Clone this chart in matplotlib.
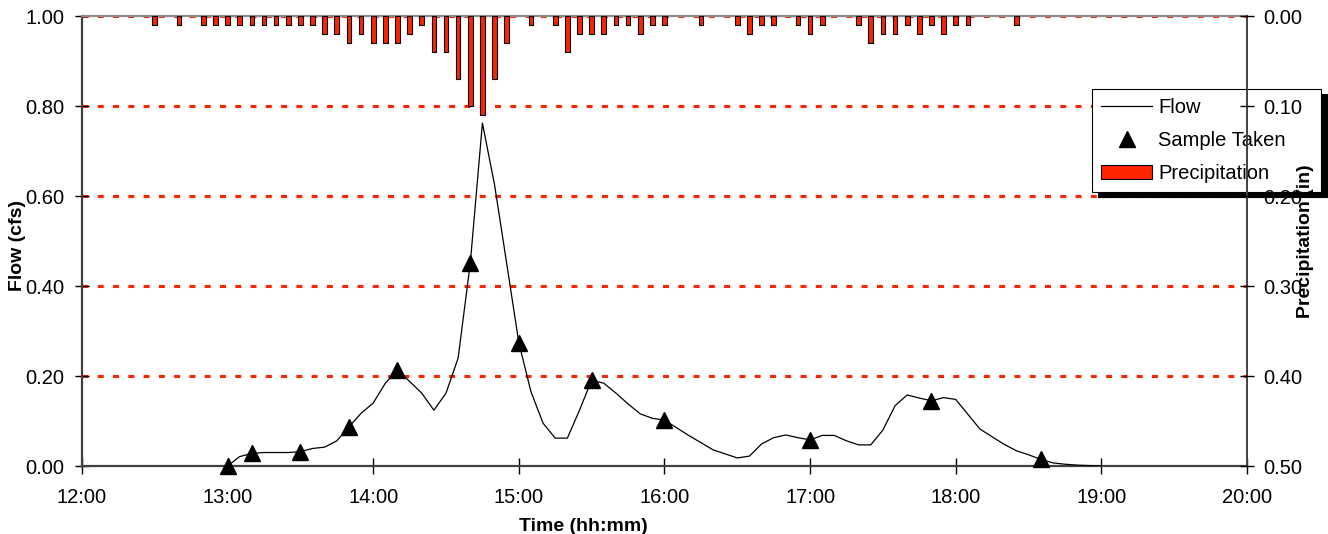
import matplotlib
matplotlib.use("Agg")
import matplotlib.pyplot as plt
from matplotlib.lines import Line2D
from matplotlib.patches import Patch

plt.rcParams["font.family"] = ["Liberation Sans", "DejaVu Sans"]

RED = "#FF2400"

# flow record, 5-minute interval (cfs)
flow_times = [
    "13:00", "13:05", "13:10", "13:15", "13:20", "13:25", "13:30", "13:35", "13:40", "13:45", "13:50", "13:55",
    "14:00", "14:05", "14:10", "14:15", "14:20", "14:25", "14:30", "14:35", "14:40", "14:45", "14:50", "14:55",
    "15:00", "15:05", "15:10", "15:15", "15:20", "15:25", "15:30", "15:35", "15:40", "15:45", "15:50", "15:55",
    "16:00", "16:05", "16:10", "16:15", "16:20", "16:25", "16:30", "16:35", "16:40", "16:45", "16:50", "16:55",
    "17:00", "17:05", "17:10", "17:15", "17:20", "17:25", "17:30", "17:35", "17:40", "17:45", "17:50", "17:55",
    "18:00", "18:05", "18:10", "18:15", "18:20", "18:25", "18:30", "18:35", "18:40", "18:45", "18:50", "18:55",
    "19:00",
]
flow_cfs = [
    0.000, 0.021, 0.028, 0.030, 0.030, 0.030, 0.032, 0.039, 0.042, 0.056, 0.087, 0.117,
    0.140, 0.184, 0.213, 0.188, 0.162, 0.124, 0.162, 0.240, 0.451, 0.762, 0.625, 0.450,
    0.274, 0.165, 0.095, 0.062, 0.062, 0.124, 0.191, 0.184, 0.162, 0.138, 0.116, 0.106,
    0.102, 0.085, 0.068, 0.052, 0.036, 0.027, 0.018, 0.022, 0.049, 0.063, 0.069, 0.063,
    0.058, 0.068, 0.068, 0.056, 0.047, 0.047, 0.080, 0.134, 0.158, 0.151, 0.145, 0.152,
    0.148, 0.115, 0.082, 0.065, 0.048, 0.034, 0.025, 0.015, 0.007, 0.004, 0.002, 0.001,
    0.000,
]

# samples taken
sample_times = ["13:00", "13:10", "13:30", "13:50", "14:10", "14:40",
                "15:00", "15:30", "16:00", "17:00", "17:50", "18:35"]
sample_cfs = [0.000, 0.028, 0.032, 0.087, 0.213, 0.451,
              0.274, 0.191, 0.102, 0.058, 0.145, 0.015]

# rainfall per 5 minutes (in)
precip_times = [
    "12:30", "12:40", "12:50", "12:55", "13:00", "13:05", "13:10", "13:15", "13:20", "13:25",
    "13:30", "13:35", "13:40", "13:45", "13:50", "13:55", "14:00", "14:05", "14:10", "14:15",
    "14:20", "14:25", "14:30", "14:35", "14:40", "14:45", "14:50", "14:55", "15:05", "15:15",
    "15:20", "15:25", "15:30", "15:35", "15:40", "15:45", "15:50", "15:55", "16:00", "16:15",
    "16:30", "16:35", "16:40", "16:45", "16:55", "17:00", "17:05", "17:20", "17:25", "17:30",
    "17:35", "17:40", "17:45", "17:50", "17:55", "18:00", "18:05", "18:25",
]
precip_in = [
    0.01, 0.01, 0.01, 0.01, 0.01, 0.01, 0.01, 0.01, 0.01, 0.01,
    0.01, 0.01, 0.02, 0.02, 0.03, 0.02, 0.03, 0.03, 0.03, 0.02,
    0.01, 0.04, 0.04, 0.07, 0.10, 0.11, 0.07, 0.03, 0.01, 0.01,
    0.04, 0.02, 0.02, 0.02, 0.01, 0.01, 0.02, 0.01, 0.01, 0.01,
    0.01, 0.02, 0.01, 0.01, 0.01, 0.02, 0.01, 0.01, 0.03, 0.02,
    0.02, 0.01, 0.02, 0.01, 0.02, 0.01, 0.01, 0.01,
]

hour_labels = ["12:00", "13:00", "14:00", "15:00", "16:00", "17:00", "18:00", "19:00", "20:00"]
flow_ticks = [0.0, 0.2, 0.4, 0.6, 0.8, 1.0]
precip_ticks = [0.0, 0.1, 0.2, 0.3, 0.4, 0.5]


def hours(t):
    h, m = t.split(":")
    return int(h) + int(m) / 60.0


fig = plt.figure(figsize=(13.28, 5.34), dpi=100)
ax = fig.add_axes([0.0617, 0.1273, 0.8773, 0.8427])
ax.set_facecolor("none")

# dashed red gridlines
for y in flow_ticks[1:]:
    ax.axhline(y, color=RED, lw=2.2, dashes=(1.95, 3.05), zorder=1)

ax.plot([hours(t) for t in flow_times], flow_cfs, color="black", lw=0.9, zorder=3)
ax.plot([hours(t) for t in sample_times], sample_cfs, ls="none", marker="^",
        ms=11, color="black", zorder=4, clip_on=False)

ax.set_xlim(hours(hour_labels[0]), hours(hour_labels[-1]))
ax.set_ylim(0, 1.0)
ax.set_xticks([hours(t) for t in hour_labels])
ax.set_xticklabels(hour_labels)
ax.set_yticks(flow_ticks)
ax.set_yticklabels([f"{v:.2f}" for v in flow_ticks])
ax.tick_params(axis="x", direction="inout", length=11, width=1, labelsize=14.5, pad=10)
ax.tick_params(axis="y", direction="inout", length=10, width=1, labelsize=14.5, pad=7.5)

for side in ["left", "bottom"]:
    ax.spines[side].set_color("#404040")
    ax.spines[side].set_linewidth(1.6)
ax.spines["top"].set_color("#8c8c8c")
ax.spines["top"].set_linewidth(1.6)
ax.spines["right"].set_visible(False)

ax.set_xlabel("Time (hh:mm)", fontsize=14, fontweight="bold")
ax.xaxis.set_label_coords(0.43, -0.116)
ax.set_ylabel("Flow (cfs)", fontsize=14, fontweight="bold")
ax.yaxis.set_label_coords(-0.048, 0.49)

# precipitation on inverted secondary axis
ax2 = ax.twinx()
ax2.set_axisbelow(False)
ax2.bar([hours(t) for t in precip_times], precip_in, width=0.032, color=RED,
        edgecolor="black", linewidth=0.8, zorder=1)
ax2.set_ylim(0.5, 0.0)
ax2.set_yticks(precip_ticks)
ax2.set_yticklabels([f"{v:.2f}" for v in precip_ticks])
ax2.tick_params(axis="y", direction="inout", length=10, width=1, labelsize=14.5, pad=6.8)
for side in ["left", "top", "bottom"]:
    ax2.spines[side].set_visible(False)
ax2.spines["right"].set_color("#404040")
ax2.spines["right"].set_linewidth(1.4)
ax2.set_ylabel("Precipitation (in)", fontsize=14, fontweight="bold", rotation=90)
ax2.yaxis.set_label_coords(1.043, 0.5)

# legend sits under the right axis, as in the original
handles = [
    Line2D([], [], color="black", lw=0.9),
    Line2D([], [], ls="none", marker="^", ms=11, color="black"),
    Patch(facecolor=RED, edgecolor="black", linewidth=0.8),
]
leg = ax2.legend(handles, ["Flow", "Sample Taken", "Precipitation"],
                 loc="upper left", bbox_to_anchor=(0.8223, 0.5, 0.1724, 0.3333),
                 bbox_transform=fig.transFigure, borderaxespad=0, mode="expand",
                 fontsize=14.5, fancybox=False, framealpha=1,
                 edgecolor="black", handlelength=2.55, handletextpad=0.3,
                 labelspacing=0.7, borderpad=0.45,
                 shadow={"ox": 4, "oy": -3.5, "facecolor": "black",
                         "edgecolor": "black", "alpha": 1})
leg.get_frame().set_linewidth(0.8)
leg.set_zorder(2.2)

fig.savefig("out.png", dpi=100)
